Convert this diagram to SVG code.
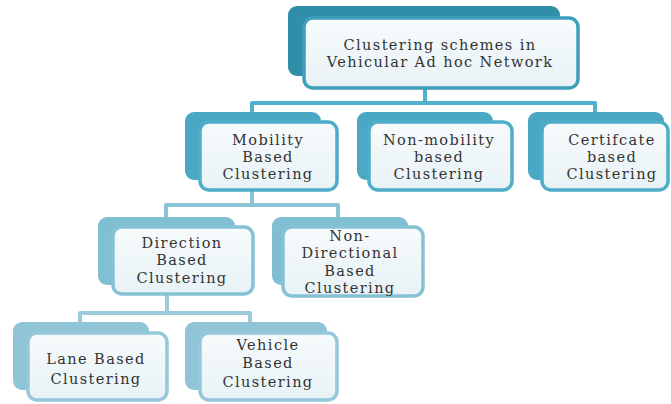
<svg xmlns="http://www.w3.org/2000/svg" width="671" height="404" viewBox="0 0 671 404">
<defs>
<linearGradient id="fill" x1="0" y1="0" x2="0" y2="1">
<stop offset="0" stop-color="#f7fbfc"/>
<stop offset="1" stop-color="#e8f2f6"/>
</linearGradient>
</defs>
<style>
.t{font-family:"DejaVu Serif","Liberation Serif",serif;font-size:14.5px;letter-spacing:1.4px;fill:#333;text-anchor:middle}
.front{fill:url(#fill);stroke-width:3.5}
.l1 .back{fill:#2f8ea8}.l1 .front{stroke:#3f9fbb}
.l2 .back{fill:#4aa8c5}.l2 .front{stroke:#4fadc9}
.l3 .back{fill:#80bed2}.l3 .front{stroke:#85c2d6}
.l4 .back{fill:#90c5d8}.l4 .front{stroke:#94c8da}
.c{fill:none;stroke-width:4;stroke-linejoin:round}
.c1{stroke:#4fb1cb}.c3{stroke:#8cc4d6}.c4{stroke:#9ccbdb}
</style>
<rect width="671" height="404" fill="#fff"/>
<g id="connectors">
<path class="c c1" d="M425 88V103M252 112V103H595V112"/>
<path class="c c3" d="M252 190V205M166 218V205H338V218"/>
<path class="c c4" d="M167 293V313M80 322V313H250V322"/>
</g>
<g id="n_root" class="l1">
<rect class="back" x="288" y="6" width="272" height="70" rx="9"/>
<rect class="front" x="304" y="18" width="274" height="70" rx="9"/>
<text class="t" x="440" y="50">Clustering schemes in</text>
<text class="t" x="440" y="67">Vehicular Ad hoc Network</text>
</g>
<g id="n_mobility" class="l2">
<rect class="back" x="185" y="112" width="136" height="68" rx="9"/>
<rect class="front" x="200" y="122" width="137" height="68" rx="9"/>
<text class="t" x="268" y="145">Mobility</text>
<text class="t" x="268" y="162">Based</text>
<text class="t" x="268" y="179">Clustering</text>
</g>
<g id="n_nonmobility" class="l2">
<rect class="back" x="357" y="112" width="136" height="68" rx="9"/>
<rect class="front" x="369" y="122" width="143" height="68" rx="9"/>
<text class="t" x="439" y="145">Non-mobility</text>
<text class="t" x="439" y="162">based</text>
<text class="t" x="439" y="179">Clustering</text>
</g>
<g id="n_certificate" class="l2">
<rect class="back" x="528" y="112" width="136" height="68" rx="9"/>
<rect class="front" x="542" y="122" width="126" height="68" rx="9"/>
<text class="t" x="612" y="145">Certifcate</text>
<text class="t" x="612" y="162">based</text>
<text class="t" x="612" y="179">Clustering</text>
</g>
<g id="n_direction" class="l3">
<rect class="back" x="98" y="217" width="137" height="68" rx="9"/>
<rect class="front" x="113" y="227" width="140" height="67" rx="9"/>
<text class="t" x="182" y="248">Direction</text>
<text class="t" x="182" y="265">Based</text>
<text class="t" x="182" y="283">Clustering</text>
</g>
<g id="n_nondirectional" class="l3">
<rect class="back" x="272" y="217" width="136" height="68" rx="9"/>
<rect class="front" x="283" y="227" width="140" height="69" rx="9"/>
<text class="t" x="350" y="241">Non-</text>
<text class="t" x="350" y="258">Directional</text>
<text class="t" x="350" y="276">Based</text>
<text class="t" x="350" y="293">Clustering</text>
</g>
<g id="n_lane" class="l4">
<rect class="back" x="13" y="322" width="136" height="68" rx="9"/>
<rect class="front" x="28" y="333" width="139" height="67" rx="9"/>
<text class="t" x="96" y="364">Lane Based</text>
<text class="t" x="96" y="384">Clustering</text>
</g>
<g id="n_vehicle" class="l4">
<rect class="back" x="185" y="322" width="142" height="68" rx="9"/>
<rect class="front" x="200" y="333" width="137" height="67" rx="9"/>
<text class="t" x="268" y="350">Vehicle</text>
<text class="t" x="268" y="368">Based</text>
<text class="t" x="268" y="387">Clustering</text>
</g>
</svg>
